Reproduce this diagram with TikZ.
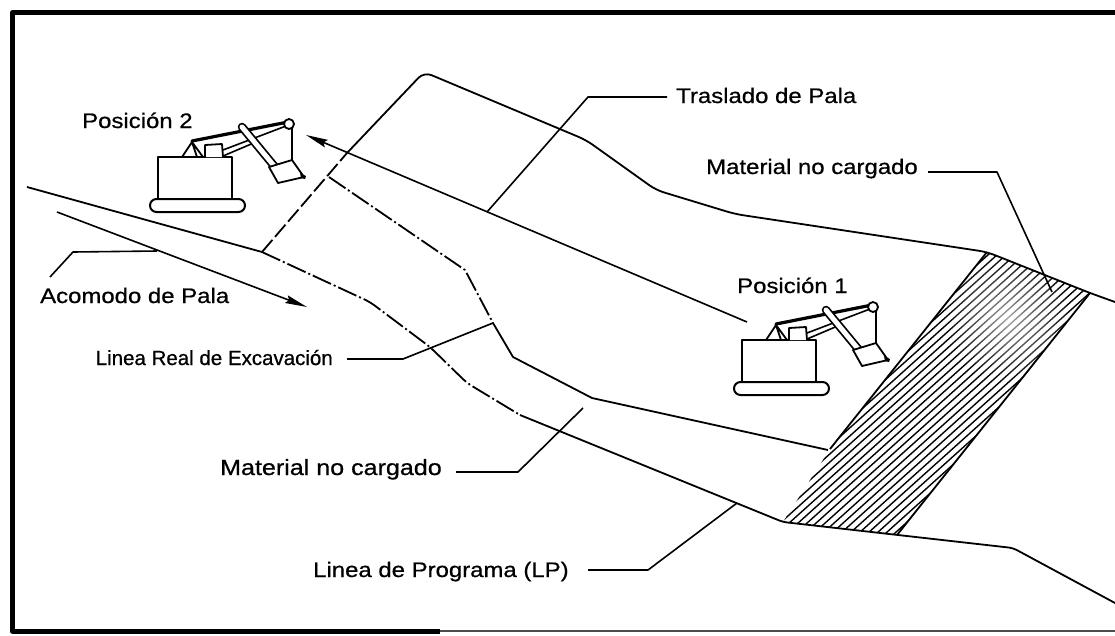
\documentclass[tikz,border=0pt]{standalone}
\usepackage{fontspec}
\setmainfont{Liberation Sans}
\newfontfamily\lbl[FakeStretch=1.14, FakeBold=0.7]{Liberation Sans}
\newfontfamily\lblplain[FakeBold=0.7]{Liberation Sans}
\usetikzlibrary{arrows.meta,fadings}

% soft white spot used to lighten part of the hatching
\tikzfading[name=paleSpot, inner color=transparent!35, outer color=transparent!100]

\begin{document}
\begin{tikzpicture}[x=1pt, y=-1pt, line join=round,
  gline/.style={line width=1.8pt},
  gdashdot/.style={line width=1.8pt, dash pattern=on 20pt off 3pt on 2pt off 3pt},
  gdash/.style={line width=1.8pt, dash pattern=on 16pt off 4pt},
  guide/.style={line width=1.6pt},
  hatchln/.style={line width=1.4pt},
  moveto/.style={line width=1.6pt, -{Stealth[length=22pt, width=8pt, inset=3pt]}},
  txt/.style={font=\lbl\fontsize{21}{24}\selectfont, inner sep=0pt},
  txtreal/.style={font=\lblplain\fontsize{20.5}{24}\selectfont, inner sep=0pt},
  txtlow/.style={font=\lbl\fontsize{22}{25}\selectfont, inner sep=0pt},
  shovel/.pic={
    % crawler tracks and body
    \draw[line width=2pt, rounded corners=6.5pt, fill=white] (-8,42) rectangle (87,55);
    \draw[line width=2pt, fill=white] (0,0) rectangle (74,42);
    % A-frame and cab
    \draw[line width=1.8pt] (24,0) -- (34,-15) -- (45,0) (34,-15) -- (39,0);
    \draw[line width=1.8pt, fill=white] (47,0) -- (47,-12) -- (64,-13) -- (65,0);
    % suspension cable and boom
    \draw[line width=3.2pt, line cap=round] (34,-16) -- (130,-35);
    \draw[line width=1.6pt] (65,-7) -- (128,-31) (65,-1) -- (98,-15);
    % hoist rope
    \draw[line width=1.6pt] (134,-29) -- (134,3);
    % dipper handle
    \draw[line width=8.5pt, line cap=round] (84,-30) -- (117,10);
    \draw[line width=5pt, line cap=round, white] (84,-30) -- (117,10);
    % dipper with tooth
    \draw[line width=1.8pt, fill=white] (111,10) -- (134,3) -- (146,20) -- (120,26) -- cycle;
    \fill (142,16) -- (148,19) -- (147,22) -- (143,21) -- cycle;
    % boom point sheave
    \draw[line width=1.8pt, fill=white] (131,-33) circle (5);
  }]

\useasboundingbox (0,0) rectangle (1115,635);

% ---------- frame ----------
\draw[line width=5pt] (1115,12.5) -- (12.5,12.5) -- (12.5,631) -- (440,631);
\draw[line width=2.5pt, black!70] (440,631) -- (1115,631);

% ---------- key points of the bench ----------
\coordinate (a0) at (27,187);
\coordinate (a1) at (262,252);
\coordinate (a2) at (370,302);
\coordinate (a3) at (430,347);
\coordinate (a4) at (467,383);
\coordinate (a5) at (520,415);
\coordinate (a6) at (783,522);
\coordinate (a7) at (1013,548);
\coordinate (a8) at (1115,603);

\coordinate (r0) at (329,177);
\coordinate (r1) at (465,270);
\coordinate (r2) at (493,323);
\coordinate (r3) at (513,357);
\coordinate (r4) at (592,398);
\coordinate (r5) at (828,450);

\coordinate (t0) at (347,153);
\coordinate (t1) at (424,72);
\coordinate (t2) at (586,140);
\coordinate (t3) at (656,190);
\coordinate (t4) at (735,214);
\coordinate (h1) at (987,252);
\coordinate (h2) at (1090,293);
\coordinate (t5) at (1115,302);
\coordinate (h3) at (897,535);
\coordinate (h4) at (783,522);
\coordinate (h5) at (830,449);

% ---------- unloaded material (hatched) ----------
\begin{scope}
  \clip (h1) -- (h2) -- (h3) -- (h4) -- (h5) -- cycle;
  \foreach \i in {0,...,28}
    \draw[hatchln] ({640+9*\i},560) -- ++(380,-342);
  \fill[white, path fading=paleSpot] (1008,318) circle (64);
\end{scope}
\draw[gline] (h1) -- (h5);
\draw[gline] (h2) -- (h3);

% ---------- programme line (LP) ----------
\draw[gline] (a0) -- (a1);
\draw[gdashdot, rounded corners=6pt] (a1) -- (a2) -- (a3) -- (a4) -- (a5);
\draw[gline, rounded corners=4pt] (a5) -- (a6) -- (a7) -- (a8);

% ---------- real excavation line ----------
\draw[gdashdot] (r0) -- (r1) -- (r2);
\draw[gline] (r2) -- (r3) -- (r4) -- (r5);

% ---------- upper crest and shovel travel edge ----------
\draw[gdash] (a1) -- (t0);
\draw[gline, rounded corners=8pt] (t0) -- (t1) -- (t2) -- (t3) -- (t4) -- (h1) -- (h2) -- (t5);

% ---------- movement arrows ----------
\coordinate (m0) at (57,212);
\coordinate (m1) at (307,307);
\draw[moveto] (m0) -- (m1);
\coordinate (s0) at (747,322);
\coordinate (s1) at (306,135);
\draw[moveto] (s0) -- (s1);

% ---------- shovels ----------
\pic at (158,157) {shovel};
\pic at (742,340) {shovel};

% ---------- labels ----------
\node[txt, anchor=base west] (p2) at (82,128) {Posición 2};
\node[txt, anchor=base west] (p1) at (737,293) {Posición 1};
\node[txt, anchor=base west] (tras) at (676,103) {Traslado de Pala};
\node[txt, anchor=base east] (mat1) at (918,174) {Material no cargado};
\node[txt, anchor=base west] (acom) at (40,303) {Acomodo de Pala};
\node[txtreal, anchor=base east] (lreal) at (333,365) {Linea Real de Excavación};
\node[txtlow, anchor=base east] (mat2) at (442,475) {Material no cargado};
\node[txt, anchor=base west] (lp) at (313,577) {Linea de Programa (LP)};

% ---------- leader lines ----------
\coordinate (g1a) at (50,277);   \coordinate (g1b) at (73,252);   \coordinate (g1c) at (157,251);
\draw[guide] (g1a) -- (g1b) -- (g1c);
\coordinate (g2a) at (667,97);   \coordinate (g2b) at (588,97);   \coordinate (g2c) at (487,212);
\draw[guide] (g2a) -- (g2b) -- (g2c);
\coordinate (g3a) at (928,172);  \coordinate (g3b) at (997,172);  \coordinate (g3c) at (1052,292);
\draw[guide] (g3a) -- (g3b) -- (g3c);
\coordinate (g4a) at (347,359);  \coordinate (g4b) at (403,359);
\draw[guide] (g4a) -- (g4b) -- (r2);
\coordinate (g5a) at (456,472);  \coordinate (g5b) at (518,472);  \coordinate (g5c) at (583,408);
\draw[guide] (g5a) -- (g5b) -- (g5c);
\coordinate (g6a) at (588,570);  \coordinate (g6b) at (648,570);  \coordinate (g6c) at (737,503);
\draw[guide] (g6a) -- (g6b) -- (g6c);

\end{tikzpicture}
\end{document}
